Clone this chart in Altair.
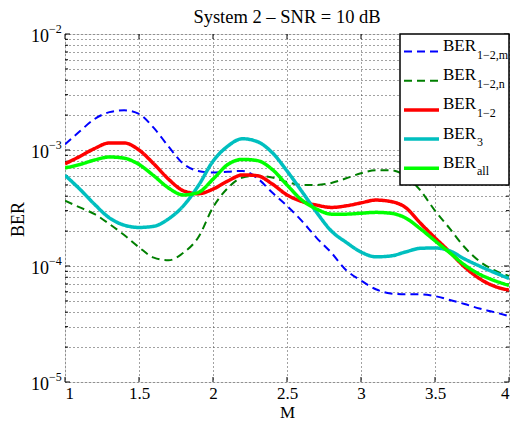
import altair as alt
import pandas as pd

# ---------------- data ----------------
M = [round(1 + 0.1 * i, 1) for i in range(31)]

ber_12m = [1.12e-3, 1.45e-3, 1.85e-3, 2.12e-3, 2.2e-3, 2.05e-3, 1.55e-3, 1.07e-3, 7.6e-4, 6.6e-4,
           6.4e-4, 6.5e-4, 6.6e-4, 5.7e-4, 4.3e-4, 3.3e-4, 2.45e-4, 1.75e-4, 1.3e-4, 9.2e-5,
           7.5e-5, 6.3e-5, 5.8e-5, 5.7e-5, 5.7e-5, 5.5e-5, 5.1e-5, 4.7e-5, 4.3e-5, 4.0e-5, 3.7e-5]
ber_12n = [3.65e-4, 3.2e-4, 2.8e-4, 2.3e-4, 1.85e-4, 1.45e-4, 1.18e-4, 1.12e-4, 1.3e-4, 1.76e-4,
           3.2e-4, 4.7e-4, 5.8e-4, 6.0e-4, 5.8e-4, 5.3e-4, 5.0e-4, 5.0e-4, 5.2e-4, 5.7e-4,
           6.3e-4, 6.7e-4, 6.7e-4, 6.0e-4, 4.5e-4, 3.0e-4, 2.1e-4, 1.45e-4, 1.1e-4, 9.2e-5, 8.2e-5]
ber_12 = [7.6e-4, 8.8e-4, 1.03e-3, 1.15e-3, 1.15e-3, 1.0e-3, 7.6e-4, 5.6e-4, 4.45e-4, 4.2e-4,
          4.6e-4, 5.4e-4, 6.1e-4, 6.0e-4, 5.1e-4, 4.1e-4, 3.6e-4, 3.35e-4, 3.2e-4, 3.3e-4,
          3.5e-4, 3.7e-4, 3.6e-4, 3.2e-4, 2.35e-4, 1.75e-4, 1.32e-4, 9.8e-5, 7.8e-5, 6.7e-5, 6.2e-5]
ber_3 = [6.05e-4, 4.6e-4, 3.4e-4, 2.6e-4, 2.25e-4, 2.15e-4, 2.2e-4, 2.55e-4, 3.3e-4, 4.9e-4,
         8.0e-4, 1.08e-3, 1.25e-3, 1.18e-3, 9.5e-4, 6.6e-4, 4.4e-4, 2.9e-4, 2.0e-4, 1.6e-4,
         1.32e-4, 1.2e-4, 1.22e-4, 1.32e-4, 1.42e-4, 1.43e-4, 1.35e-4, 1.15e-4, 1.0e-4, 8.8e-5, 7.8e-5]
ber_all = [7.0e-4, 7.5e-4, 8.2e-4, 8.7e-4, 8.5e-4, 7.5e-4, 6.0e-4, 4.7e-4, 4.1e-4, 4.3e-4,
           5.6e-4, 7.5e-4, 8.3e-4, 8.1e-4, 6.8e-4, 5.0e-4, 3.7e-4, 3.1e-4, 2.8e-4, 2.8e-4,
           2.85e-4, 2.9e-4, 2.85e-4, 2.6e-4, 2.1e-4, 1.65e-4, 1.3e-4, 1.02e-4, 8.5e-5, 7.5e-5, 6.8e-5]

series = [ber_12m, ber_12n, ber_12, ber_3, ber_all]
legend_main = ["BER", "BER", "BER", "BER", "BER"]
legend_sub = ["1\u22122,m", "1\u22122,n", "1\u22122", "3", "all"]
colors = ["#0000ff", "#007f00", "#ff0000", "#00bfbf", "#00ff00"]
dashes = [[8, 5], [8, 5], [1, 0], [1, 0], [1, 0]]
widths = [2, 2, 3.5, 3.5, 3.5]

title_text = "System 2 \u2013 SNR = 10 dB"
x_ticks = [1, 1.5, 2, 2.5, 3, 3.5, 4]
y_major = [1e-2, 1e-3, 1e-4, 1e-5]
y_exp = ["\u22122", "\u22123", "\u22124", "\u22125"]
y_grid = [k * 10.0 ** d for d in (-5, -4, -3) for k in range(1, 10)] + [1e-2]
y_minor = [v for v in y_grid if v not in y_major]

FONT = "Liberation Serif"
W, H = 444, 348
LB = W - 109  # legend box left

xs = alt.Scale(domain=[1, 4], nice=False, zero=False)
ys = alt.Scale(type="log", domain=[1e-5, 1e-2], nice=False)

def X():
    return alt.X("M:Q", scale=xs)

def Y():
    return alt.Y("BER:Q", scale=ys)

layers = []

# grid / axes layer
grid_df = pd.DataFrame({"M": M, "BER": ber_12m})
axes_layer = alt.Chart(grid_df).mark_line(opacity=0).encode(
    x=alt.X("M:Q", scale=xs, axis=alt.Axis(
        values=x_ticks, format="~g", grid=True, gridDash=[1, 3], gridColor="#444",
        gridWidth=1, ticks=False, domain=False, labelFont=FONT, labelFontSize=17,
        labelColor="black", labelPadding=3, title="M", titleFont=FONT, titleFontSize=17,
        titleFontWeight="normal", titleColor="black", titlePadding=3)),
    y=alt.Y("BER:Q", scale=ys, axis=alt.Axis(
        values=y_grid, grid=True, gridDash=[1, 3], gridColor="#444", gridWidth=1,
        labels=False, ticks=False, domain=False, title="BER", titleFont=FONT,
        titleFontSize=18, titleFontWeight="normal", titleColor="black",
        titleX=-38, titleY=185, titleAngle=-90, titleBaseline="bottom")),
)
layers.append(axes_layer)

# inward ticks
xt_df = pd.DataFrame({"M": x_ticks})
layers.append(alt.Chart(xt_df).mark_rule(color="black", strokeWidth=1).encode(
    x=X(), y=alt.value(H), y2=alt.value(H - 5)))
layers.append(alt.Chart(xt_df).mark_rule(color="black", strokeWidth=1).encode(
    x=X(), y=alt.value(0), y2=alt.value(5)))
ymaj_df = pd.DataFrame({"BER": y_major, "exp": y_exp})
ymin_df = pd.DataFrame({"BER": y_minor})
for df, ln in ((ymaj_df, 5), (ymin_df, 3)):
    layers.append(alt.Chart(df).mark_rule(color="black", strokeWidth=1).encode(
        y=Y(), x=alt.value(0), x2=alt.value(ln)))
    layers.append(alt.Chart(df).mark_rule(color="black", strokeWidth=1).encode(
        y=Y(), x=alt.value(W), x2=alt.value(W - ln)))

# y tick labels 10^k
layers.append(alt.Chart(ymaj_df).mark_text(
    text="10", align="right", baseline="middle", font=FONT, fontSize=18, dy=3, color="black"
).encode(y=Y(), x=alt.value(-16)))
layers.append(alt.Chart(ymaj_df).mark_text(
    align="left", baseline="middle", font=FONT, fontSize=12, dy=-5, color="black"
).encode(y=Y(), x=alt.value(-16), text="exp:N"))

# series lines
for vals, c, d, w in zip(series, colors, dashes, widths):
    df = pd.DataFrame({"M": M, "BER": vals})
    layers.append(alt.Chart(df).mark_line(
        color=c, strokeDash=d, strokeWidth=w, interpolate="monotone", clip=True
    ).encode(x=X(), y=Y()))

# legend box
one = pd.DataFrame({"a": [0]})
layers.append(alt.Chart(one).mark_rect(fill="white", stroke="black", strokeWidth=1.5).encode(
    x=alt.value(LB), x2=alt.value(W), y=alt.value(0), y2=alt.value(151)))
for i, (mn, sb, c, d, w) in enumerate(zip(legend_main, legend_sub, colors, dashes, widths)):
    row = 17.5 + 29.2 * i
    layers.append(alt.Chart(one).mark_rule(color=c, strokeDash=d, strokeWidth=w).encode(
        x=alt.value(LB + 4), x2=alt.value(LB + 39), y=alt.value(row), y2=alt.value(row)))
    layers.append(alt.Chart(one).mark_text(
        text=mn, align="left", baseline="alphabetic", font=FONT, fontSize=17, color="black"
    ).encode(x=alt.value(LB + 43), y=alt.value(row - 0.5)))
    layers.append(alt.Chart(one).mark_text(
        text=sb, align="left", baseline="alphabetic", font=FONT, fontSize=12, color="black"
    ).encode(x=alt.value(LB + 77), y=alt.value(row + 7)))

# title as text
layers.append(alt.Chart(one).mark_text(
    text=title_text, align="center", baseline="alphabetic", font=FONT, fontSize=18.5, color="black"
).encode(x=alt.value(W / 2), y=alt.value(-11)))

chart = alt.layer(*layers).properties(
    width=W, height=H,
    autosize=alt.AutoSizeParams(type="none"),
    padding={"left": 57, "top": 26, "right": 1, "bottom": 40},
).configure_view(stroke="black", strokeWidth=1.5).configure(background="white")

chart.save("out.html", embed_options={"renderer": "svg", "actions": False})
